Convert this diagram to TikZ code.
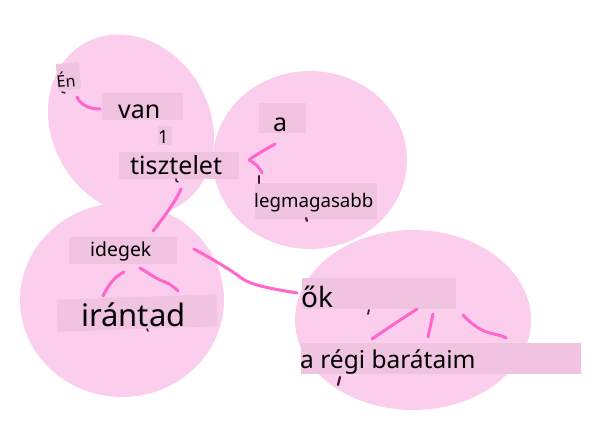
\documentclass[tikz,border=0pt]{standalone}
\usepackage{fontspec}
\setmainfont{Noto Sans}
\definecolor{blob}{RGB}{252,206,238}
\definecolor{boxc}{RGB}{240,196,224}
\definecolor{pen}{RGB}{255,102,204}
\definecolor{ink}{RGB}{75,18,58}
\tikzset{
  bx/.style={fill=boxc, draw=none, inner sep=0pt, anchor=north west},
  lbl/.style={inner sep=0pt, anchor=base west, text=black},
  stroke/.style={draw=pen, line width=3pt, line cap=round, line join=round},
  inkmark/.style={draw=ink, line width=2.2pt, line cap=round},
}
\newcommand{\fs}[1]{\fontsize{#1pt}{#1pt}\selectfont}
\begin{document}
\begin{tikzpicture}[x=1pt,y=-1pt]
\useasboundingbox (0,0) rectangle (600,430);
% blobs
\fill[blob, rotate around={30:(131,125)}] (131,125) ellipse [x radius=79, y radius=94];
\fill[blob] (310,160) ellipse [x radius=97, y radius=89];
\fill[blob] (122,300) ellipse [x radius=102, y radius=97];
\fill[blob] (413,320) ellipse [x radius=118, y radius=90];
% boxes
\node[bx, anchor=center, rotate=5, minimum width=23, minimum height=27] (bEn) at (68.5,76.5) {};
\node[bx, minimum width=81, minimum height=27] (bvan) at (102,93) {};
\node[bx, minimum width=14, minimum height=19] (bone) at (158,126) {};
\node[bx, minimum width=120, minimum height=27] (btisz) at (119,152) {};
\node[bx, minimum width=47, minimum height=30] (ba) at (259,103) {};
\node[bx, minimum width=122, minimum height=36] (bleg) at (255,183) {};
\node[bx, minimum width=108, minimum height=27] (bide) at (69,237) {};
\node[bx, anchor=center, rotate=2, minimum width=160, minimum height=32] (biran) at (137,313) {};
\node[bx, minimum width=154, minimum height=31] (bok) at (302,278) {};
\node[bx, minimum width=280, minimum height=31] (breg) at (301,343) {};
% texts
\node[lbl, rotate=5, font=\fs{16}] (tEn) at (57,88) {Én};
\node[lbl, font=\fs{25}] (tvan) at (118,119) {van};
\node[lbl, font=\fs{18}] (tone) at (158,144) {1};
\node[lbl, font=\fs{25}] (ttisz) at (130,175) {tisztelet};
\node[lbl, font=\fs{25}] (ta) at (273,132) {a};
\node[lbl, font=\fs{18.7}] (tleg) at (254,208) {legmagasabb};
\node[lbl, font=\fs{19.4}] (tide) at (90,257) {idegek};
\node[lbl, font=\fs{31}] (tiran) at (81,327) {irántad};
\node[lbl, font=\fs{28}] (tok) at (301,308) {ők};
\node[lbl, font=\fs{24.5}] (treg) at (300,369) {a régi barátaim};
% connector end points
\coordinate (c1a) at (77,97);   \coordinate (c1b) at (100,109);
\coordinate (c2a) at (181,189); \coordinate (c2b) at (153,231);
\coordinate (c3a) at (275,144); \coordinate (c3m) at (249,160); \coordinate (c3b) at (262,173);
\coordinate (c4a) at (124,272); \coordinate (c4b) at (103,296);
\coordinate (c5a) at (140,268); \coordinate (c5b) at (178,291);
\coordinate (c6a) at (194,249); \coordinate (c6b) at (297,293);
\coordinate (c7a) at (417,309); \coordinate (c7b) at (372,339);
\coordinate (c8a) at (433,314); \coordinate (c8b) at (428,337);
\coordinate (c9a) at (463,315); \coordinate (c9b) at (506,338);
% connectors
\draw[stroke] (c1a) .. controls (80,104) and (88,109) .. (c1b);
\draw[stroke] (c2a) .. controls (176,200) and (168,212) .. (c2b);
\draw[stroke] (c3a) .. controls (265,150) and (255,155) .. (c3m) .. controls (255,163) and (260,168) .. (c3b);
\draw[stroke] (c4a) .. controls (115,277) and (110,282) .. (c4b);
\draw[stroke] (c5a) .. controls (150,274) and (158,280) .. (165,282) .. controls (170,284) and (174,287) .. (c5b);
\draw[stroke] (c6a) .. controls (210,258) and (228,268) .. (240,277) .. controls (250,286) and (280,290) .. (c6b);
\draw[stroke] (c7a) .. controls (400,320) and (385,330) .. (c7b);
\draw[stroke] (c8a) -- (c8b);
\draw[stroke] (c9a) .. controls (470,322) and (478,330) .. (490,333) .. controls (498,335) and (503,336) .. (c9b);
% small dark marks
\coordinate (m1a) at (62,92); \coordinate (m1b) at (65,93);
\draw[inkmark, line width=1.5pt] (m1a) -- (m1b);
\coordinate (m2a) at (176,179); \coordinate (m2b) at (178,182);
\draw[inkmark, line width=1.6pt] (m2a) .. controls (176,181) .. (m2b);
\coordinate (m3a) at (259,176); \coordinate (m3b) at (259,183);
\draw[inkmark] (m3a) -- (m3b);
\coordinate (m4a) at (306,218); \coordinate (m4b) at (307,221);
\draw[inkmark] (m4a) -- (m4b);
\coordinate (m5a) at (147,329); \coordinate (m5b) at (148,331);
\draw[inkmark, line width=1.6pt] (m5a) -- (m5b);
\coordinate (m6a) at (369,310); \coordinate (m6b) at (368,314);
\draw[inkmark, line width=1.8pt] (m6a) -- (m6b);
\coordinate (m7a) at (340,377); \coordinate (m7b) at (338,385);
\draw[inkmark] (m7a) -- (m7b);
\end{tikzpicture}
\end{document}
